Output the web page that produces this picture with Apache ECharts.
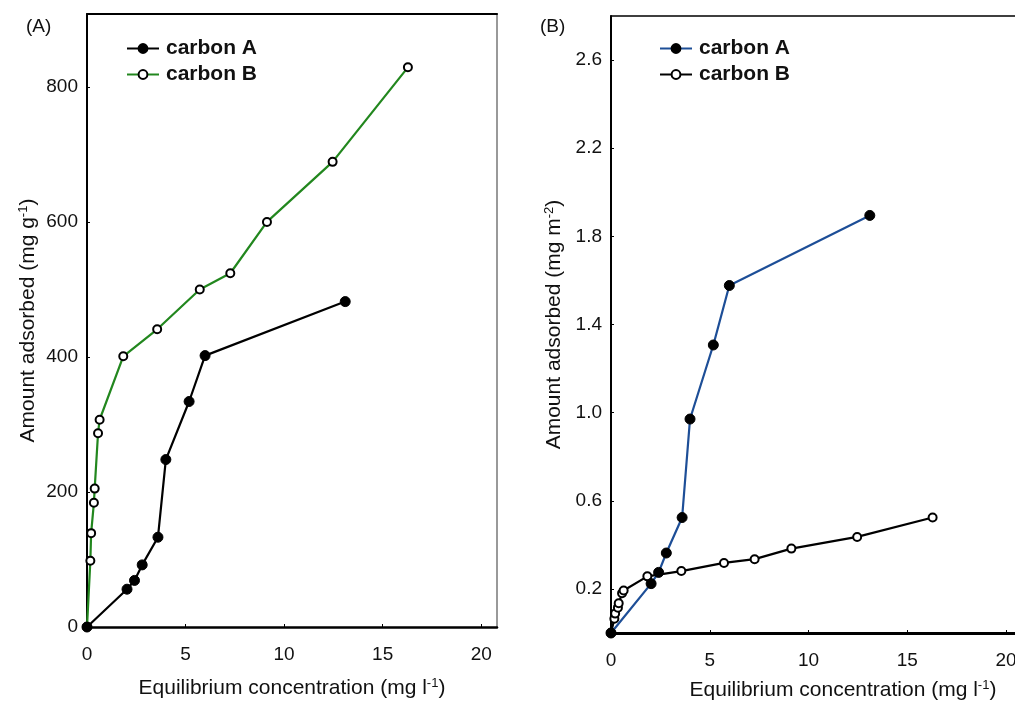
<!DOCTYPE html>
<html>
<head>
<meta charset="utf-8">
<script src="https://cdn.jsdelivr.net/npm/echarts@6/dist/echarts.min.js"></script>
<style>
  html, body { margin: 0; padding: 0; background: #fff; }
  #chart { width: 1015px; height: 701px; }
</style>
</head>
<body>
<div id="chart"></div>
<script>
// equilibrium concentration (mg l-1)
var carbonA_x = [0, 2.03, 2.41, 2.8, 3.6, 4.0, 5.18, 5.99, 13.1];
var carbonB_x = [0, 0.17, 0.21, 0.35, 0.39, 0.56, 0.64, 1.84, 3.56, 5.72, 7.27, 9.13, 12.46, 16.28];

// (A) amount adsorbed, mg g-1
var carbonA_perMass = [0, 56, 69, 92, 133, 248, 334, 402, 482];
var carbonB_perMass = [0, 98, 139, 184, 205, 287, 307, 401, 441, 500, 524, 600, 689, 829];

// (B) amount adsorbed, mg m-2
var carbonA_perArea = [0, 0.224, 0.275, 0.363, 0.524, 0.971, 1.307, 1.577, 1.895];
var carbonB_perArea = [0, 0.065, 0.088, 0.115, 0.135, 0.18, 0.193, 0.257, 0.281, 0.318, 0.335, 0.383, 0.436, 0.524];

var yTicksB = [0.2, 0.6, 1.0, 1.4, 1.8, 2.2, 2.6];

var FONT = "Liberation Sans, Arial, sans-serif";
var GREEN = "#22871e";
var BLUE = "#1d4e97";

function pairs(xs, ys) {
  var out = [];
  for (var i = 0; i < xs.length; i++) out.push([xs[i], ys[i]]);
  return out;
}

var supRich = {
  sup: { fontSize: 13, fontFamily: FONT, color: "#111", verticalAlign: "top", padding: [0, 0, 9, 0] },
};

var filled = { color: "#000", borderColor: "#000", borderWidth: 1 };
var hollow = { color: "#fff", borderColor: "#000", borderWidth: 2 };

function frameAxis(pos, grid, min, max, color, width) {
  return {
    type: "value", gridIndex: grid, position: pos, min: min, max: max,
    axisLine: { show: true, onZero: false, lineStyle: { color: color, width: width } },
    axisTick: { show: false }, axisLabel: { show: false }, splitLine: { show: false },
  };
}

var tickLabel = { fontFamily: FONT, fontSize: 19, color: "#111" };
var titleText = { fontFamily: FONT, fontSize: 21, color: "#111", rich: supRich };
var legendText = { fontFamily: FONT, fontSize: 21, fontWeight: "bold", color: "#111", padding: [0, 0, 0, 2] };

var chart = echarts.init(document.getElementById("chart"));
var option = {
  backgroundColor: "#fff",
  animation: false,
  title: [
    { text: "(A)", left: 21, top: 12, textStyle: { fontFamily: FONT, fontSize: 19, fontWeight: "normal", color: "#111" } },
    { text: "(B)", left: 535, top: 12, textStyle: { fontFamily: FONT, fontSize: 19, fontWeight: "normal", color: "#111" } },
  ],
  legend: [
    {
      left: 121, top: 33, orient: "vertical", itemWidth: 32, itemHeight: 11, itemGap: 5,
      data: ["carbon A", "carbon B"],
      textStyle: legendText,
    },
    {
      left: 654, top: 33, orient: "vertical", itemWidth: 32, itemHeight: 11, itemGap: 5,
      data: [{ name: "carbon A " }, { name: "carbon B " }],
      formatter: function (n) { return n.trim(); },
      textStyle: legendText,
    },
  ],
  grid: [
    { left: 87, top: 14, width: 410, height: 613, outerBoundsMode: "none" },
    { left: 611, top: 16, width: 404, height: 617, outerBoundsMode: "none" },
  ],
  xAxis: [
    {
      type: "value", gridIndex: 0, min: 0, max: 20.8, interval: 5,
      name: "Equilibrium concentration (mg l{sup|-1})", nameLocation: "middle", nameGap: 50,
      nameTextStyle: titleText,
      axisLine: { show: true, onZero: false, lineStyle: { color: "#000", width: 2.5 } },
      axisTick: { show: true, inside: true, length: 3, lineStyle: { color: "#000" } },
      axisLabel: Object.assign({ margin: 18, showMaxLabel: false }, tickLabel),
      splitLine: { show: false },
    },
    frameAxis("top", 0, 0, 20.8, "#000", 2),
    {
      type: "value", gridIndex: 1, min: 0, max: 20.45, interval: 5,
      name: "Equilibrium concentration (mg l{sup|-1})", nameLocation: "middle", nameGap: 46,
      nameTextStyle: Object.assign({ padding: [0, 0, 0, 60] }, titleText),
      axisLine: { show: true, onZero: false, lineStyle: { color: "#000", width: 3 } },
      axisTick: { show: true, inside: true, length: 3, lineStyle: { color: "#000" } },
      axisLabel: Object.assign({ margin: 18, showMaxLabel: false }, tickLabel),
      splitLine: { show: false },
    },
    frameAxis("top", 1, 0, 20.45, "#000", 1.5),
  ],
  yAxis: [
    {
      type: "value", gridIndex: 0, min: 0, max: 908, interval: 200,
      name: "Amount adsorbed (mg g{sup|-1})", nameLocation: "middle", nameGap: 48,
      nameTextStyle: titleText,
      axisLine: { show: true, onZero: false, lineStyle: { color: "#000", width: 2 } },
      axisTick: { show: true, inside: true, length: 3, lineStyle: { color: "#000" } },
      axisLabel: Object.assign({ margin: 9, showMaxLabel: false }, tickLabel),
      splitLine: { show: false },
    },
    frameAxis("right", 0, 0, 908, "#777", 1.5),
    {
      type: "value", gridIndex: 1, min: 0, max: 2.8,
      name: "Amount adsorbed (mg m{sup|-2})", nameLocation: "middle", nameGap: 46,
      nameTextStyle: titleText,
      axisLine: { show: true, onZero: false, lineStyle: { color: "#000", width: 2 } },
      axisTick: { show: true, inside: true, length: 3, lineStyle: { color: "#000" }, customValues: yTicksB },
      axisLabel: Object.assign({
        margin: 9, customValues: yTicksB,
        formatter: function (v) { return v.toFixed(1); },
      }, tickLabel),
      splitLine: { show: false },
    },
  ],
  series: [
    {
      name: "carbon A", type: "line", xAxisIndex: 0, yAxisIndex: 0,
      data: pairs(carbonA_x, carbonA_perMass),
      symbol: "circle", symbolSize: 10, showAllSymbol: true,
      lineStyle: { color: "#000", width: 2.2 }, itemStyle: filled, z: 3,
    },
    {
      name: "carbon B", type: "line", xAxisIndex: 0, yAxisIndex: 0,
      data: pairs(carbonB_x, carbonB_perMass),
      symbol: "circle", symbolSize: 8, showAllSymbol: true,
      lineStyle: { color: GREEN, width: 2.2 }, itemStyle: hollow, z: 2,
    },
    {
      name: "carbon B ", type: "line", xAxisIndex: 2, yAxisIndex: 2,
      data: pairs(carbonB_x, carbonB_perArea),
      symbol: "circle", symbolSize: 8, showAllSymbol: true,
      lineStyle: { color: "#000", width: 2.2 }, itemStyle: hollow, z: 2,
    },
    {
      name: "carbon A ", type: "line", xAxisIndex: 2, yAxisIndex: 2,
      data: pairs(carbonA_x, carbonA_perArea),
      symbol: "circle", symbolSize: 10, showAllSymbol: true,
      lineStyle: { color: BLUE, width: 2.2 }, itemStyle: filled, z: 3,
    },
  ],
};
chart.setOption(option);
</script>
</body>
</html>
